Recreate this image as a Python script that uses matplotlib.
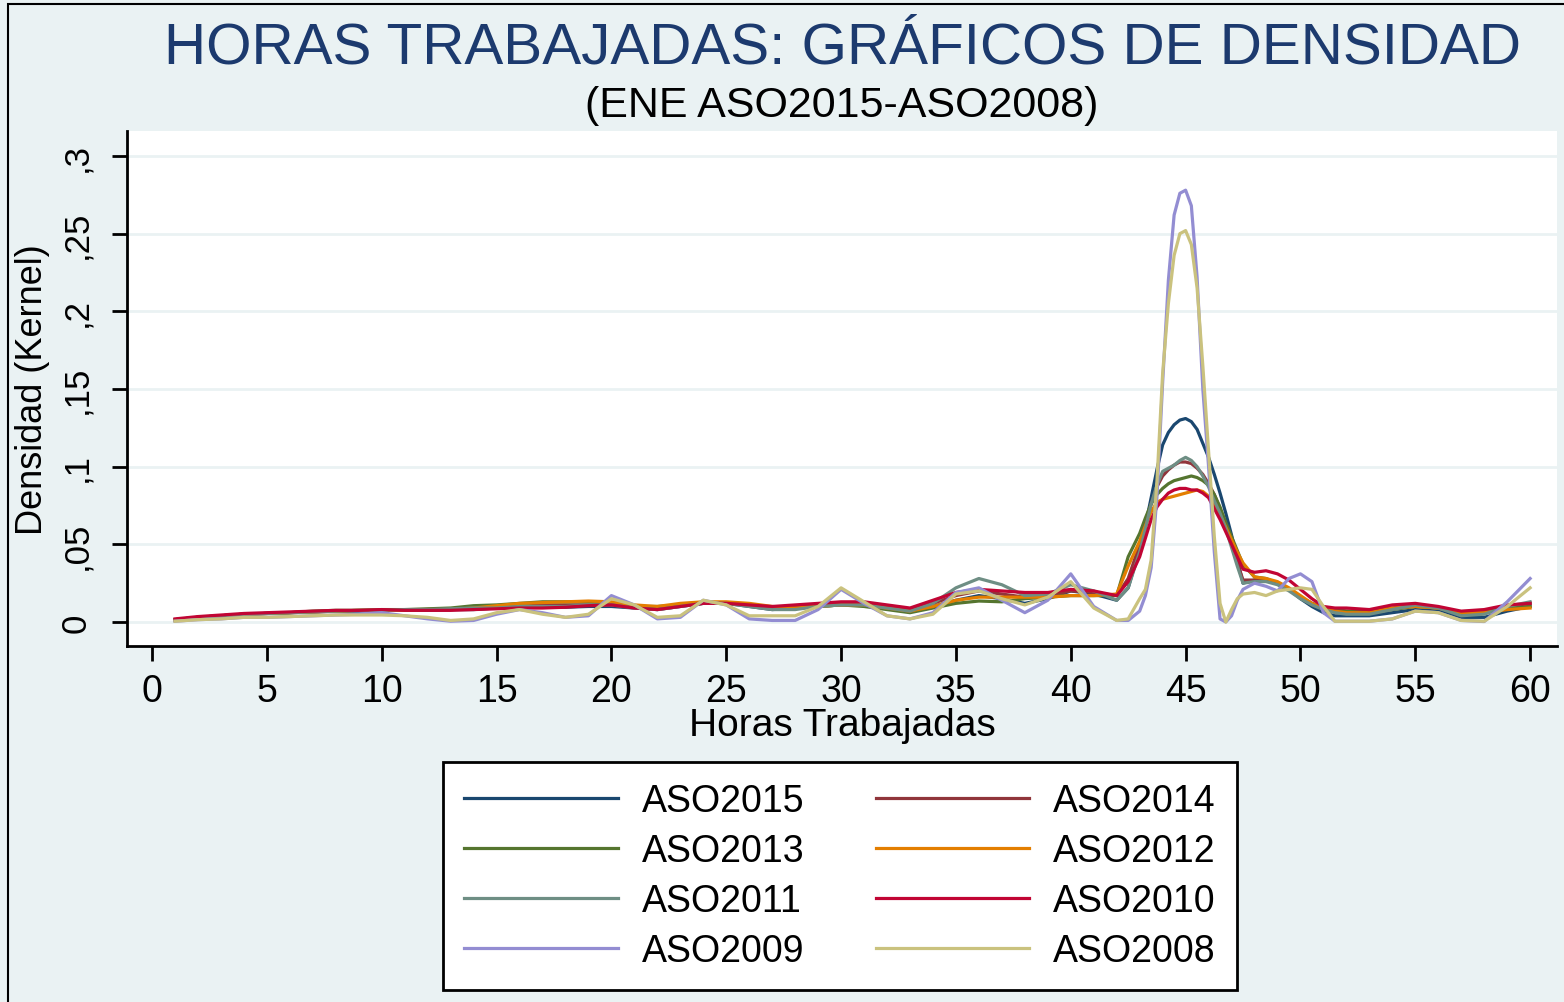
import matplotlib
matplotlib.use("Agg")
import matplotlib.pyplot as plt
from matplotlib.patches import Rectangle

plt.rcParams['font.family'] = ['Liberation Sans', 'DejaVu Sans']

# horas (grid where the kernel densities were read)
hours = [1, 2, 3, 4, 5, 6, 7, 8, 9, 10, 11, 12, 13, 14, 15, 16, 17, 18, 19, 20,
         21, 22, 23, 24, 25, 26, 27, 28, 29, 30, 31, 32, 33, 34, 35, 36, 37, 38, 39, 40,
         41, 42, 42.5, 43, 43.25, 43.5, 43.75, 44, 44.25, 44.5, 44.75, 45, 45.25, 45.5,
         45.75, 46, 46.25, 46.5, 46.75, 47, 47.25, 47.5, 48, 48.5, 49, 49.5, 50, 50.5,
         51, 51.5, 52, 53, 54, 55, 56, 57, 58, 59, 60]

aso2015 = [.0015, .003, .004, .005, .0055, .006, .0065, .007, .007, .0075,
           .0075, .0075, .008, .008, .009, .010, .010, .0095, .010, .010,
           .009, .008, .010, .012, .012, .010, .008, .009, .010, .011,
           .011, .009, .007, .010, .014, .017, .015, .012, .015, .020,
           .018, .014,
           .022, .047, .062, .080, .098, .114, .122, .127, .130, .131, .129, .124,
           .115, .106, .095, .083, .070, .056, .040, .025, .027, .027, .025, .021,
           .015, .010, .006, .004, .004,
           .004, .006, .008, .007, .003, .003, .007, .010]

aso2014 = [.0015, .003, .004, .005, .0055, .006, .0065, .007, .0075, .0075,
           .0075, .008, .008, .0085, .009, .010, .011, .011, .011, .011,
           .010, .009, .011, .012, .012, .011, .009, .010, .011, .012,
           .012, .010, .008, .012, .017, .020, .018, .016, .017, .020,
           .019, .017,
           .028, .050, .064, .076, .087, .094, .098, .101, .103, .103, .102, .099,
           .095, .089, .082, .073, .062, .050, .038, .027, .027, .027, .025, .021,
           .016, .012, .009, .008, .007,
           .007, .009, .011, .009, .006, .007, .010, .012]

aso2013 = [.0015, .003, .004, .005, .0055, .006, .007, .0075, .0075, .008,
           .008, .0085, .009, .0105, .011, .012, .013, .013, .013, .012,
           .010, .010, .011, .012, .012, .011, .009, .009, .010, .011,
           .010, .008, .006, .009, .012, .0135, .013, .015, .016, .017,
           .017, .017,
           .042, .057, .067, .076, .082, .086, .089, .091, .092, .093, .094, .093,
           .091, .088, .082, .074, .064, .055, .046, .037, .029, .028, .025, .021,
           .016, .012, .009, .008, .007,
           .006, .008, .010, .009, .005, .006, .009, .010]

aso2012 = [.0015, .003, .004, .005, .0055, .006, .0065, .007, .0075, .0075,
           .0075, .008, .008, .009, .0105, .012, .0125, .013, .0135, .013,
           .011, .010, .012, .013, .013, .012, .010, .009, .010, .011,
           .011, .009, .007, .010, .014, .016, .016, .016, .016, .017,
           .017, .018,
           .036, .052, .062, .071, .077, .079, .080, .081, .082, .083, .084, .085,
           .084, .081, .076, .069, .061, .053, .045, .038, .029, .028, .026, .022,
           .017, .012, .009, .007, .006,
           .006, .009, .010, .009, .006, .006, .008, .009]

aso2011 = [.0015, .003, .004, .005, .0055, .006, .0065, .007, .0075, .0075,
           .008, .008, .0085, .009, .009, .010, .010, .010, .011, .011,
           .009, .008, .010, .012, .012, .010, .008, .008, .010, .011,
           .011, .009, .007, .012, .022, .028, .024, .017, .018, .024,
           .020, .014,
           .022, .045, .060, .076, .088, .097, .099, .101, .104, .106, .104, .100,
           .094, .087, .078, .070, .060, .048, .036, .025, .026, .026, .024, .020,
           .015, .011, .008, .006, .005,
           .005, .008, .011, .009, .004, .005, .010, .013]

aso2010 = [.002, .0035, .0045, .0055, .006, .0065, .007, .0075, .0075, .008,
           .0075, .0075, .0075, .008, .0085, .009, .009, .0095, .0105, .011,
           .009, .008, .010, .012, .012, .011, .010, .011, .012, .013,
           .013, .011, .009, .014, .019, .021, .020, .019, .019, .021,
           .020, .017,
           .026, .042, .054, .066, .074, .079, .083, .085, .086, .086, .085, .085,
           .083, .080, .073, .066, .058, .050, .042, .034, .032, .033, .031, .027,
           .021, .015, .010, .009, .009,
           .008, .011, .012, .010, .007, .008, .011, .012]

aso2009 = [.0005, .0015, .002, .003, .003, .0035, .004, .0045, .005, .006,
           .004, .002, .0005, .001, .005, .008, .006, .003, .004, .017,
           .011, .002, .003, .014, .011, .002, .001, .001, .008, .021,
           .012, .004, .002, .006, .019, .022, .014, .006, .014, .031,
           .010, .001,
           .001, .007, .017, .035, .080, .154, .220, .262, .276, .278, .268, .222,
           .150, .100, .045, .002, 0, .004, .014, .021, .025, .023, .020, .028,
           .031, .026, .006, .0005, .0005,
           .0005, .002, .007, .006, .001, .0003, .013, .028]

aso2008 = [.0005, .0015, .002, .003, .003, .0035, .004, .0045, .0045, .0045,
           .004, .003, .001, .002, .006, .008, .005, .003, .005, .015,
           .011, .003, .004, .014, .011, .004, .004, .004, .010, .022,
           .013, .004, .002, .005, .018, .020, .015, .011, .016, .026,
           .009, .001,
           .002, .015, .021, .040, .090, .160, .205, .236, .250, .252, .243, .215,
           .165, .110, .055, .012, 0, .008, .015, .018, .019, .017, .020, .021,
           .022, .021, .010, .0005, .0005,
           .0005, .002, .007, .006, .001, .0005, .010, .022]

labels = ['ASO2015', 'ASO2014', 'ASO2013', 'ASO2012',
          'ASO2011', 'ASO2010', 'ASO2009', 'ASO2008']
series = [aso2015, aso2014, aso2013, aso2012, aso2011, aso2010, aso2009, aso2008]
colors = ['#1a476f', '#90353b', '#55752f', '#e37e00',
          '#6e8e84', '#c10534', '#938dd2', '#cac27e']

y_ticks = [0, .05, .1, .15, .2, .25, .3]
y_tick_labels = ['0', ',05', ',1', ',15', ',2', ',25', ',3']
x_ticks = list(range(0, 61, 5))

bg = '#eaf2f3'
fig = plt.figure(figsize=(15.64, 10.03), dpi=100, facecolor=bg)

# outer frame of the graph region
fig.patches.append(Rectangle((8 / 1564, -0.02), 1.0, 1 - 5 / 1003 + 0.02,
                             transform=fig.transFigure, fill=False,
                             edgecolor='black', linewidth=1.5))

ax = fig.add_axes([127 / 1564, 1 - 647 / 1003, 1430 / 1564, 515 / 1003])
ax.set_facecolor('white')

lines = []
for ys, lab, col in zip(series, labels, colors):
    ln, = ax.plot(hours, ys, color=col, linewidth=2.3, label=lab)
    lines.append(ln)

ax.set_xlim(-1.09, 61.17)
ax.set_ylim(-0.01545, 0.3161)

ax.set_yticks(y_ticks)
ax.set_yticklabels(y_tick_labels, rotation=90, va='center', fontsize=25)
ax.set_xticks(x_ticks)
ax.set_xticklabels([str(t) for t in x_ticks], fontsize=27)

ax.grid(axis='y', color=bg, linewidth=2)
ax.set_axisbelow(True)

for side in ['top', 'right']:
    ax.spines[side].set_visible(False)
for side in ['left', 'bottom']:
    ax.spines[side].set_linewidth(2)

ax.tick_params(axis='both', length=10.5, width=2, direction='out')
ax.tick_params(axis='y', pad=14)
ax.tick_params(axis='x', pad=9)

fig.text(842 / 1564, 1 - 48 / 1003, 'HORAS TRABAJADAS: GRÁFICOS DE DENSIDAD',
         ha='center', va='center', fontsize=42, color='#1c3a6e')
fig.text(842 / 1564, 1 - 106 / 1003, '(ENE ASO2015-ASO2008)',
         ha='center', va='center', fontsize=31, color='black')
fig.text(842 / 1564, 1 - 726 / 1003, 'Horas Trabajadas',
         ha='center', va='center', fontsize=28)
fig.text(33 / 1564, 1 - 390 / 1003, 'Densidad (Kernel)',
         ha='center', va='center', rotation=90, fontsize=26)

# legend filled by rows like Stata: two columns
order = [0, 2, 4, 6, 1, 3, 5, 7]
leg = fig.legend([lines[i] for i in order], [labels[i] for i in order],
                 ncol=2, loc='center',
                 bbox_to_anchor=(840 / 1564, 1 - 877 / 1003),
                 fontsize=27, handlelength=4.1, handletextpad=0.64,
                 columnspacing=1.9, labelspacing=0.38, borderpad=0.55,
                 fancybox=False, framealpha=1, edgecolor='black')
leg.get_frame().set_linewidth(2)

fig.savefig('out.png', dpi=100, facecolor=bg)
